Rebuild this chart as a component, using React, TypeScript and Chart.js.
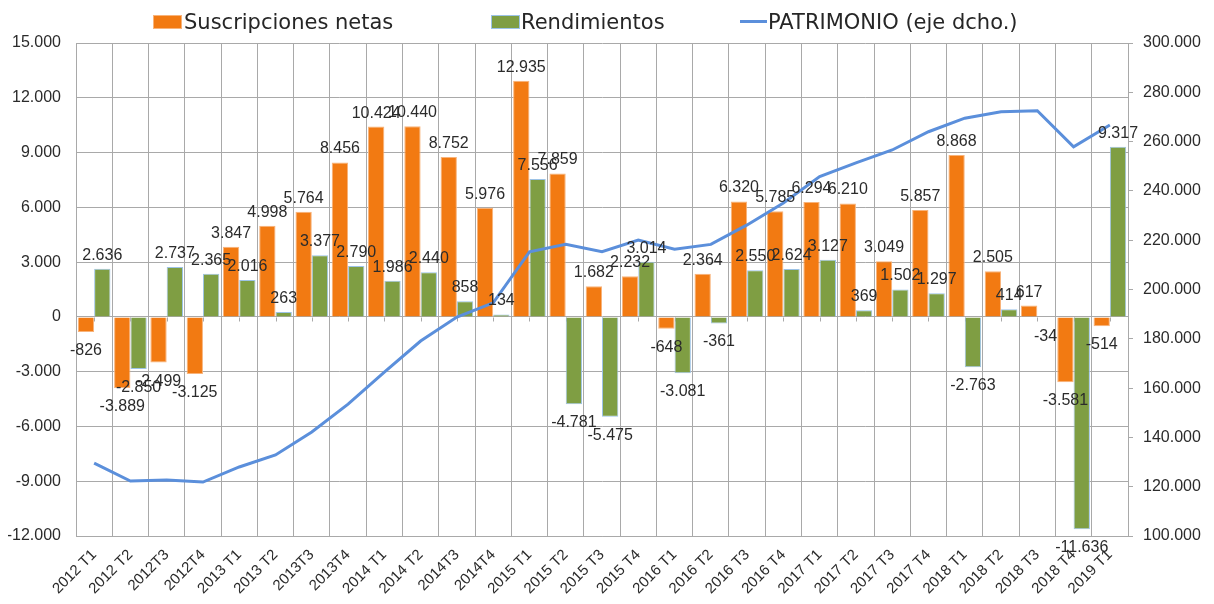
import React, { useEffect, useRef } from 'react';
import { Chart, registerables } from 'chart.js';

Chart.register(...registerables);

const categories = [
  '2012 T1', '2012 T2', '2012T3', '2012T4',
  '2013 T1', '2013 T2', '2013T3', '2013T4',
  '2014 T1', '2014 T2', '2014T3', '2014T4',
  '2015 T1', '2015 T2', '2015 T3', '2015 T4',
  '2016 T1', '2016 T2', '2016 T3', '2016 T4',
  '2017 T1', '2017 T2', '2017 T3', '2017 T4',
  '2018 T1', '2018 T2', '2018 T3', '2018 T4',
  '2019 T1',
];

const suscripciones = [
  -826, -3889, -2499, -3125,
  3847, 4998, 5764, 8456,
  10424, 10440, 8752, 5976,
  12935, 7859, 1682, 2232,
  -648, 2364, 6320, 5785,
  6294, 6210, 3049, 5857,
  8868, 2505, 617, -3581,
  -514,
];

const rendimientos = [
  2636, -2850, 2737, 2365,
  2016, 263, 3377, 2790,
  1986, 2440, 858, 134,
  7556, -4781, -5475, 3014,
  -3081, -361, 2550, 2624,
  3127, 369, 1502, 1297,
  -2763, 414, -34, -11636,
  9317,
];

const patrimonio = [
  129600, 122300, 122700, 121900,
  128000, 132900, 142200, 153500,
  166500, 179100, 188800, 194600,
  215300, 218300, 215300, 220100,
  216300, 218300, 226200, 235100,
  245800, 251400, 256600, 264000,
  269500, 272100, 272500, 257900,
  266700,
];

const seriesNames = ['Suscripciones netas', 'Rendimientos', 'PATRIMONIO (eje dcho.)'];

const ORANGE = '#F27A12';
const ORANGE_BORDER = '#F8B37A';
const GREEN = '#7F9E43';
const GREEN_BORDER = '#9DC3E6';
const BLUE = '#5B8FDB';
const GRID = '#A9A9A9';
const TEXT = '#2B2B2B';
const NUM_FONT = '"Liberation Sans", Arial, sans-serif';
const LEGEND_FONT = '"DejaVu Sans", sans-serif';

function fmt(v: number): string {
  const s = Math.abs(Math.round(v)).toString().replace(/\B(?=(\d{3})+(?!\d))/g, '.');
  return (v < 0 ? '-' : '') + s;
}

const zeroTicksPlugin = {
  id: 'zeroTicks',
  beforeDatasetsDraw(chart: any) {
    const { ctx, scales } = chart;
    const y0 = Math.round(scales.y.getPixelForValue(0)) + 0.5;
    ctx.save();
    ctx.strokeStyle = GRID;
    ctx.lineWidth = 1;
    ctx.beginPath();
    for (let i = 0; i < categories.length; i++) {
      const x = Math.round(scales.x.getPixelForValue(i)) + 0.5;
      ctx.moveTo(x, y0);
      ctx.lineTo(x, y0 + 4);
    }
    ctx.stroke();
    ctx.restore();
  },
};

const barLabelsPlugin = {
  id: 'barLabels',
  afterDatasetsDraw(chart: any) {
    const ctx = chart.ctx;
    ctx.save();
    ctx.font = '16px ' + NUM_FONT;
    ctx.fillStyle = TEXT;
    ctx.textAlign = 'center';
    ctx.textBaseline = 'alphabetic';
    [0, 1].forEach((di) => {
      const meta = chart.getDatasetMeta(di);
      const data = chart.data.datasets[di].data as number[];
      meta.data.forEach((el: any, i: number) => {
        const v = data[i];
        const p = el.getProps(['x', 'y'], true);
        const yy = v >= 0 ? p.y - 9 : p.y + 23;
        ctx.fillText(fmt(v), p.x, yy);
      });
    });
    ctx.restore();
  },
};

const legendPlugin = {
  id: 'customLegend',
  afterDraw(chart: any) {
    const ctx = chart.ctx;
    ctx.save();
    ctx.font = '21px ' + LEGEND_FONT;
    ctx.textBaseline = 'alphabetic';
    ctx.textAlign = 'left';
    // Suscripciones netas
    ctx.fillStyle = ORANGE;
    ctx.fillRect(145, 7, 29, 14);
    ctx.strokeStyle = ORANGE_BORDER;
    ctx.lineWidth = 1;
    ctx.strokeRect(145.5, 7.5, 28, 13);
    ctx.fillStyle = '#262626';
    ctx.fillText(seriesNames[0], 176, 21);
    // Rendimientos
    ctx.fillStyle = GREEN;
    ctx.fillRect(483, 7, 29, 14);
    ctx.strokeStyle = GREEN_BORDER;
    ctx.strokeRect(483.5, 7.5, 28, 13);
    ctx.fillStyle = '#262626';
    ctx.fillText(seriesNames[1], 513, 21);
    // Patrimonio
    ctx.strokeStyle = BLUE;
    ctx.lineWidth = 3;
    ctx.beginPath();
    ctx.moveTo(732, 13.5);
    ctx.lineTo(759, 13.5);
    ctx.stroke();
    ctx.fillStyle = '#262626';
    ctx.fillText(seriesNames[2], 760, 21);
    ctx.restore();
  },
};

export default function App() {
  const canvasRef = useRef<HTMLCanvasElement | null>(null);

  useEffect(() => {
    if (!canvasRef.current) return;
    const chart = new Chart(canvasRef.current, {
      type: 'bar',
      data: {
        labels: categories,
        datasets: [
          {
            type: 'bar',
            label: seriesNames[0],
            data: suscripciones,
            backgroundColor: ORANGE,
            borderColor: ORANGE_BORDER,
            borderWidth: 1,
            yAxisID: 'y',
            order: 2,
            categoryPercentage: 0.9,
            barPercentage: 1.0,
          },
          {
            type: 'bar',
            label: seriesNames[1],
            data: rendimientos,
            backgroundColor: GREEN,
            borderColor: GREEN_BORDER,
            borderWidth: 1,
            yAxisID: 'y',
            order: 2,
            categoryPercentage: 0.9,
            barPercentage: 1.0,
          },
          {
            type: 'line',
            label: seriesNames[2],
            data: patrimonio,
            borderColor: BLUE,
            backgroundColor: BLUE,
            borderWidth: 3,
            pointRadius: 0,
            tension: 0,
            yAxisID: 'y1',
            order: 0,
          } as any,
        ],
      },
      options: {
        animation: false,
        responsive: false,
        maintainAspectRatio: false,
        layout: { padding: { top: 35, left: 0, right: 0, bottom: 0 } },
        plugins: {
          legend: { display: false },
          tooltip: { enabled: false },
        },
        scales: {
          x: {
            offset: true,
            grid: {
              offset: true,
              color: GRID,
              drawTicks: false,
              lineWidth: 1,
            },
            border: { color: GRID },
            ticks: {
              autoSkip: false,
              maxRotation: 45,
              minRotation: 45,
              padding: 10,
              color: TEXT,
              font: { family: NUM_FONT, size: 15 },
            },
            afterFit(scale: any) {
              scale.height = 60;
            },
          },
          y: {
            position: 'left',
            min: -12000,
            max: 15000,
            grid: { color: GRID, drawTicks: false },
            border: { color: GRID },
            ticks: {
              stepSize: 3000,
              padding: 15,
              color: TEXT,
              font: { family: NUM_FONT, size: 16 },
              callback: (v: any) => fmt(Number(v)),
            },
            afterFit(scale: any) {
              scale.width = 68;
            },
          },
          y1: {
            position: 'right',
            min: 100000,
            max: 300000,
            grid: { drawOnChartArea: false, drawTicks: true, tickLength: 5, color: GRID },
            border: { color: GRID },
            ticks: {
              stepSize: 20000,
              padding: 10,
              color: TEXT,
              font: { family: NUM_FONT, size: 16 },
              callback: (v: any) => fmt(Number(v)),
            },
            afterFit(scale: any) {
              scale.width = 78;
            },
          },
        },
      },
      plugins: [zeroTicksPlugin, barLabelsPlugin, legendPlugin],
    } as any);
    return () => chart.destroy();
  }, []);

  return (
    <div style={{ width: 1198, height: 588, position: 'relative' }}>
      <canvas ref={canvasRef} width={1198} height={588} style={{ display: 'block' }} />
    </div>
  );
}
